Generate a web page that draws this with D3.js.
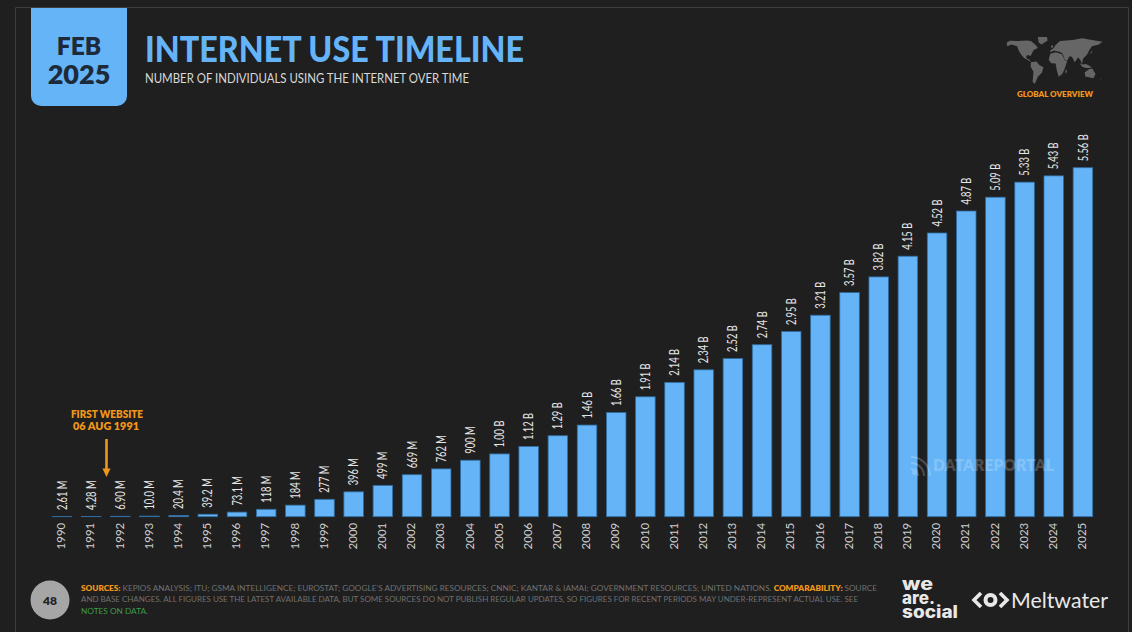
<!DOCTYPE html>
<html>
<head>
<meta charset="utf-8">
<script src="https://cdn.jsdelivr.net/npm/d3@7"></script>
<style>
	html, body { margin: 0; padding: 0; background: #1f1f1f; overflow: hidden; }
	svg { display: block; font-family: Lato, sans-serif; }
</style>
</head>
<body>
<div class="d3-here"></div>
<script>
// data
var years = d3.range(1990, 2026).map(String);
var usersM = [2.61, 4.28, 6.90, 10.0, 20.4, 39.2, 73.1, 118, 184, 277, 396, 499,
	669, 762, 900, 1000, 1120, 1290, 1460, 1660, 1910, 2140, 2340, 2520,
	2740, 2950, 3210, 3570, 3820, 4150, 4520, 4870, 5090, 5330, 5430, 5560];

// rough continent outlines, [lon, lat]
var continents = [
	[[-168,65],[-156,71],[-125,70],[-95,72],[-80,70],[-62,58],[-55,50],[-70,44],[-76,35],[-81,26],[-90,29],[-97,26],[-95,18],[-85,15],[-80,8],[-90,14],[-105,20],[-117,32],[-124,42],[-130,55],[-150,60],[-165,55]],
	[[-55,82],[-22,82],[-20,72],[-42,60],[-52,66]],
	[[-80,8],[-60,10],[-50,0],[-35,-7],[-40,-22],[-55,-35],[-66,-55],[-74,-50],[-71,-20],[-81,-5]],
	[[-16,15],[-10,33],[10,37],[32,31],[43,12],[51,12],[40,-15],[33,-27],[20,-35],[13,-15],[9,4],[-7,5]],
	[[-10,37],[-9,44],[3,50],[8,58],[25,70],[70,73],[105,78],[140,73],[178,68],[165,60],[140,55],[130,42],[122,30],[108,18],[104,2],[98,15],[90,22],[78,8],[68,24],[58,25],[52,14],[43,13],[35,32],[26,38],[14,40],[3,42]],
	[[114,-22],[130,-12],[142,-11],[153,-27],[146,-39],[116,-34]],
	[[-8,54],[-3,59],[1,52],[-5,50]],
	[[130,32],[140,36],[142,44],[137,37]],
	[[96,4],[106,-6],[120,-9],[140,-8],[130,-2],[118,3],[108,1]],
	[[44,-16],[50,-14],[47,-25],[44,-24]],
	[[168,-46],[174,-41],[178,-38],[172,-44]]
];

var sources = [
	[["SOURCES: ", "#f0961a", 800], ["KEPIOS ANALYSIS; ITU; GSMA INTELLIGENCE; EUROSTAT; GOOGLE\u2019S ADVERTISING RESOURCES; CNNIC; KANTAR & IAMAI; GOVERNMENT RESOURCES; UNITED NATIONS. ", "#707070", 400], ["COMPARABILITY: ", "#f0961a", 800], ["SOURCE", "#707070", 400]],
	[["AND BASE CHANGES. ALL FIGURES USE THE LATEST AVAILABLE DATA, BUT SOME SOURCES DO NOT PUBLISH REGULAR UPDATES, SO FIGURES FOR RECENT PERIODS MAY UNDER-REPRESENT ACTUAL USE. SEE", "#707070", 400]],
	[["NOTES ON DATA.", "#3f9a4a", 400]]
];

// options
var width = 1132, height = 632;
var blue = '#64b4f7', orange = '#f0961a', bg = '#1f1f1f';
var baseY = 516.7, topY = 167.7;

var svg = d3.select('.d3-here').append('svg')
	.attr('width', width)
	.attr('height', height);

svg.append('rect').attr('width', width).attr('height', height).attr('fill', bg);

// frame
svg.append('path')
	.attr('d', 'M15.5,632V7.5H1128.5V632')
	.attr('fill', 'none')
	.attr('stroke', '#3d3d3d');

// scales
var x = d3.scaleBand()
	.domain(years)
	.range([47.4, 1097.5])
	.paddingInner(0.33)
	.paddingOuter(0.165);

var y = d3.scaleLinear()
	.domain([0, d3.max(usersM)])
	.range([baseY, topY]);

var fmt = d3.format('.3r');
function label(v) {
	return v >= 1000 ? (v / 1000).toFixed(2) + ' B' : fmt(v) + ' M';
}

// bars
svg.append('g').selectAll('rect')
	.data(usersM)
	.enter()
	.append('rect')
	.attr('x', function(d, i) { return x(years[i]); })
	.attr('y', function(d) { return y(d); })
	.attr('width', x.bandwidth())
	.attr('height', function(d) { return baseY - y(d); })
	.attr('fill', blue)
	.attr('stroke', '#2f6c9e')
	.attr('stroke-width', 0.8);

// value labels
svg.append('g').selectAll('text')
	.data(usersM)
	.enter()
	.append('text')
	.attr('transform', function(d, i) {
		return 'translate(' + (x(years[i]) + x.bandwidth() / 2 + 4.6) + ',' + (y(d) - 6.5) + ') rotate(-90) scale(0.72,1)';
	})
	.attr('font-size', 13)
	.attr('fill', '#e6e6e6')
	.text(label);

// year axis
var axis = svg.append('g')
	.attr('transform', 'translate(0,' + baseY + ')')
	.call(d3.axisBottom(x).tickSize(0));
axis.select('.domain').remove();
axis.selectAll('text')
	.attr('font-family', 'Lato, sans-serif')
	.attr('font-size', 11.5)
	.attr('fill', '#cfcfcf')
	.attr('text-anchor', 'end')
	.attr('dx', 0)
	.attr('dy', 0)
	.attr('x', 0)
	.attr('y', 0)
	.attr('transform', 'translate(3.2,6) rotate(-90)');

// badge
svg.append('path')
	.attr('d', 'M31,8H127V96a10,10 0 0 1 -10,10H41a10,10 0 0 1 -10,-10Z')
	.attr('fill', blue);
var badge = svg.append('text').attr('text-anchor', 'middle')
	.attr('font-weight', 800).attr('fill', '#1d2a3a');
badge.append('tspan').attr('x', 79).attr('y', 55).attr('font-size', 24.5).text('FEB');
badge.append('tspan').attr('x', 79).attr('y', 84).attr('font-size', 27).text('2025');

// title
svg.append('text').attr('x', 145).attr('y', 62)
	.attr('font-size', 36).attr('font-weight', 900).attr('fill', blue)
	.attr('textLength', 379).attr('lengthAdjust', 'spacingAndGlyphs')
	.text('INTERNET USE TIMELINE');
svg.append('text').attr('x', 145).attr('y', 83)
	.attr('font-size', 12.5).attr('fill', '#d8d8d8')
	.attr('textLength', 324).attr('lengthAdjust', 'spacingAndGlyphs')
	.text('NUMBER OF INDIVIDUALS USING THE INTERNET OVER TIME');

// map
var lonScale = d3.scaleLinear().domain([-170, 180]).range([1006, 1103]);
var latScale = d3.scaleLinear().domain([82, -56]).range([37, 84]);
var mapLine = d3.line()
	.x(function(d) { return lonScale(d[0]); })
	.y(function(d) { return latScale(d[1]); })
	.curve(d3.curveLinearClosed);
svg.append('g').selectAll('path')
	.data(continents)
	.enter()
	.append('path')
	.attr('d', mapLine)
	.attr('fill', '#666');
svg.append('text').attr('x', 1055).attr('y', 96.5).attr('text-anchor', 'middle')
	.attr('font-size', 8).attr('font-weight', 800).attr('fill', orange)
	.attr('textLength', 76).attr('lengthAdjust', 'spacingAndGlyphs')
	.text('GLOBAL OVERVIEW');

// first website note
svg.append('text').attr('x', 107).attr('y', 418).attr('text-anchor', 'middle')
	.attr('font-size', 10.5).attr('font-weight', 800).attr('fill', orange)
	.attr('textLength', 72).attr('lengthAdjust', 'spacingAndGlyphs').text('FIRST WEBSITE');
svg.append('text').attr('x', 106).attr('y', 430).attr('text-anchor', 'middle')
	.attr('font-size', 10.5).attr('font-weight', 800).attr('fill', orange)
	.attr('textLength', 66).attr('lengthAdjust', 'spacingAndGlyphs').text('06 AUG 1991');
svg.append('path')
	.attr('d', 'M105.2,439H107.8V468.5H110.5L106.5,477L102.5,468.5H105.2Z')
	.attr('fill', orange);

// watermark
var mark = svg.append('g').attr('fill', '#fff').attr('opacity', 0.2);
mark.append('text').attr('x', 933).attr('y', 471)
	.attr('font-size', 16).attr('font-weight', 800)
	.attr('textLength', 121).attr('lengthAdjust', 'spacingAndGlyphs')
	.text('DATAREPORTAL');
[8, 14, 20].forEach(function(r) {
	mark.append('path')
		.attr('transform', 'translate(911,476)')
		.attr('d', d3.arc()({ innerRadius: r - 2, outerRadius: r, startAngle: 0, endAngle: Math.PI / 2 }));
});
mark.append('circle').attr('cx', 915).attr('cy', 472).attr('r', 3);

// page number
svg.append('circle').attr('cx', 50).attr('cy', 600).attr('r', 19.5).attr('fill', '#a6a6a6');
svg.append('text').attr('x', 50).attr('y', 604.5).attr('text-anchor', 'middle')
	.attr('font-size', 12).attr('font-weight', 800).attr('fill', '#222').text('48');

// footer text
var lineEnds = [796, 777, 67];
sources.forEach(function(line, i) {
	var t = svg.append('text')
		.attr('x', 81)
		.attr('y', 590.5 + i * 11.5)
		.attr('font-size', 8.2)
		.attr('textLength', lineEnds[i])
		.attr('lengthAdjust', 'spacingAndGlyphs');
	line.forEach(function(part) {
		t.append('tspan').attr('fill', part[1]).attr('font-weight', part[2]).text(part[0]);
	});
});

// logos
var logoWords = ['we', 'are.', 'social'];
var logoWidths = [31, 33, 56];
var logo = svg.append('text')
	.attr('font-family', 'Inter, sans-serif')
	.attr('font-size', 17).attr('font-weight', 800).attr('fill', '#e8e8e8');
logoWords.forEach(function(w, i) {
	logo.append('tspan').attr('x', 902).attr('y', 590 + i * 14)
		.attr('textLength', logoWidths[i]).attr('lengthAdjust', 'spacingAndGlyphs')
		.text(w);
});
var eye = svg.append('g').attr('fill', 'none').attr('stroke', '#e8e8e8');
eye.append('path').attr('stroke-width', 3.6).attr('d', 'M981,593L974,600L981,607');
eye.append('path').attr('stroke-width', 3.6).attr('d', 'M1000,593L1007,600L1000,607');
eye.append('circle').attr('stroke-width', 4).attr('cx', 990.5).attr('cy', 600).attr('r', 5);
svg.append('text').attr('x', 1011).attr('y', 608)
	.attr('font-size', 21).attr('font-weight', 400).attr('fill', '#e8e8e8')
	.attr('textLength', 97).attr('lengthAdjust', 'spacingAndGlyphs')
	.text('Meltwater');
</script>
</body>
</html>
